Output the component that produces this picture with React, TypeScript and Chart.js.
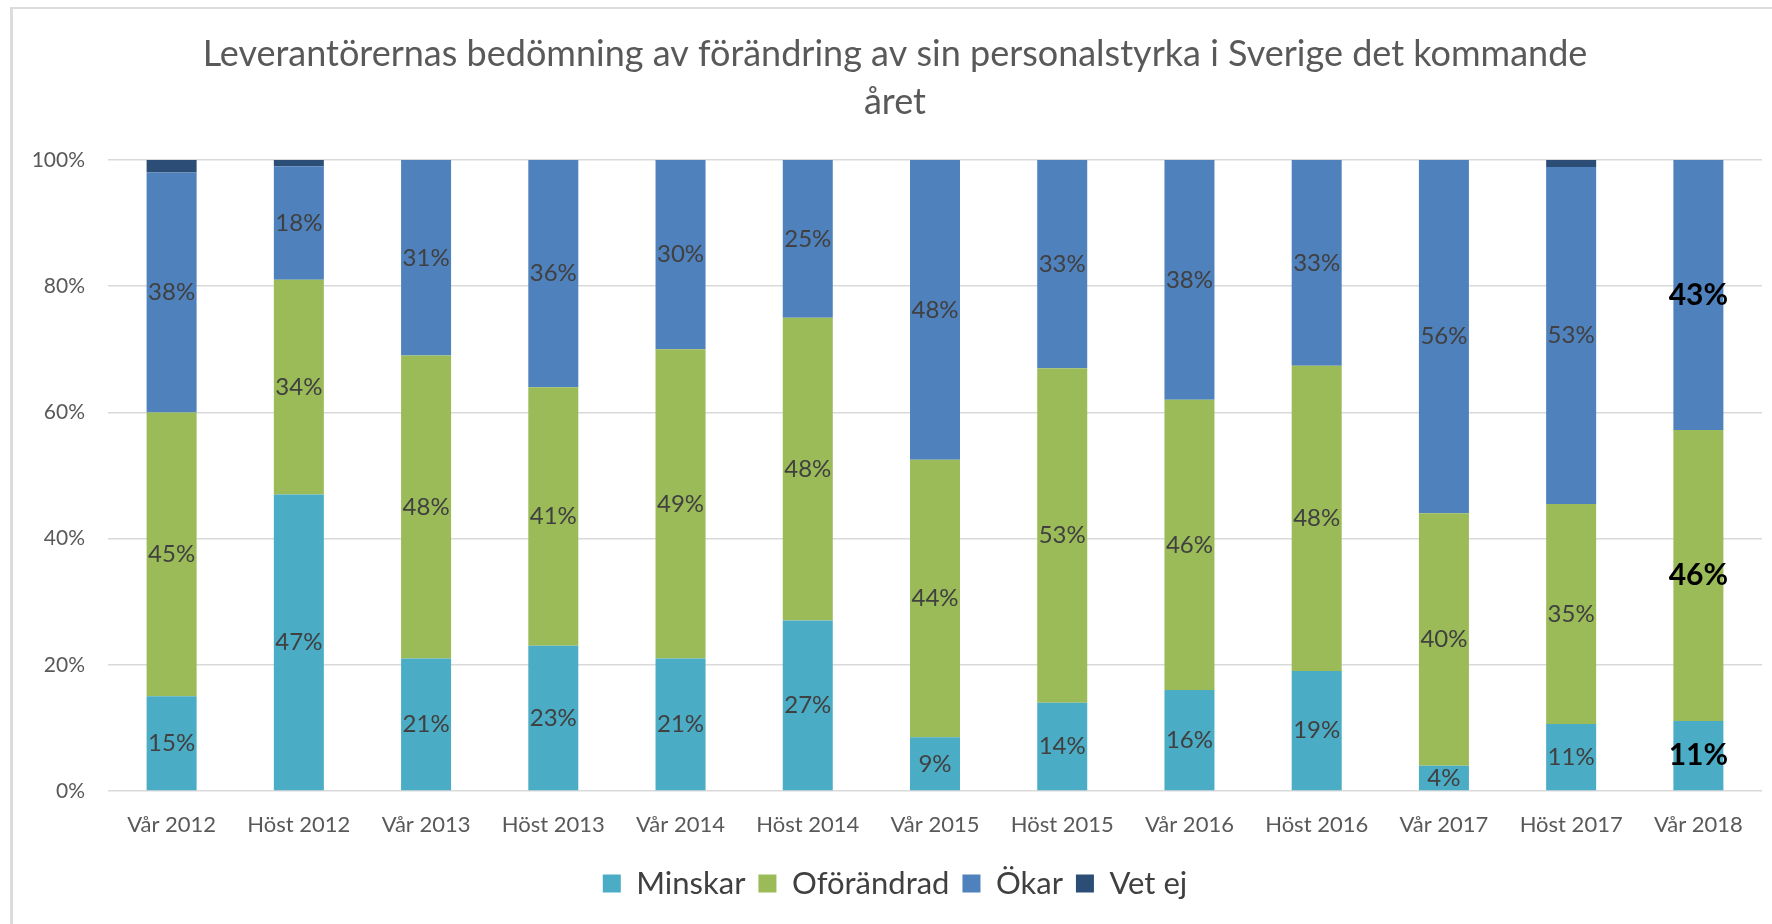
import React, { useEffect, useRef } from "react";
import { Chart, registerables } from "chart.js";

Chart.register(...registerables);

const categories = [
  "Vår 2012", "Höst 2012", "Vår 2013", "Höst 2013", "Vår 2014", "Höst 2014", "Vår 2015",
  "Höst 2015", "Vår 2016", "Höst 2016", "Vår 2017", "Höst 2017", "Vår 2018",
];
const minskar = [15, 47, 21, 23, 21, 27, 8.5, 14, 16, 19, 4, 10.6, 11.1];
const oforandrad = [45, 34, 48, 41, 49, 48, 44, 53, 46, 48.4, 40, 34.9, 46.1];
const okar = [38, 18, 31, 36, 30, 25, 47.5, 33, 38, 32.6, 56, 53.4, 42.8];
const vetEj = [2, 1, 0, 0, 0, 0, 0, 0, 0, 0, 0, 1.1, 0];
const yTicks = [0, 20, 40, 60, 80, 100];
const titleLines = [
  "Leverantörernas bedömning av förändring av sin personalstyrka i Sverige det kommande",
  "året",
];

const FONT = "Lato, 'Open Sans', sans-serif";

const dataLabelPlugin = {
  id: "stackLabels",
  afterDatasetsDraw(chart: any) {
    const ctx = chart.ctx;
    const last = chart.data.labels.length - 1;
    chart.data.datasets.forEach((ds: any, di: number) => {
      if (ds.hideLabels) return;
      const meta = chart.getDatasetMeta(di);
      meta.data.forEach((el: any, i: number) => {
        const v = ds.data[i];
        if (!v) return;
        const yc = (el.y + el.base) / 2;
        ctx.save();
        ctx.textAlign = "center";
        ctx.textBaseline = "middle";
        if (i === last) {
          ctx.font = `bold 30px ${FONT}`;
          ctx.fillStyle = "#000000";
        } else {
          ctx.font = `24px ${FONT}`;
          ctx.fillStyle = "#404040";
        }
        ctx.fillText(Math.round(v) + "%", el.x, yc);
        ctx.restore();
      });
    });
  },
};

export default function App() {
  const ref = useRef<HTMLCanvasElement | null>(null);
  useEffect(() => {
    if (!ref.current) return;
    const bp = 0.393;
    const chart = new Chart(ref.current, {
      type: "bar",
      data: {
        labels: categories,
        datasets: [
          { label: "Minskar", data: minskar, backgroundColor: "#4BACC6", barPercentage: bp, categoryPercentage: 1 },
          { label: "Oförändrad", data: oforandrad, backgroundColor: "#9BBB59", barPercentage: bp, categoryPercentage: 1 },
          { label: "Ökar", data: okar, backgroundColor: "#4F81BD", barPercentage: bp, categoryPercentage: 1 },
          { label: "Vet ej", data: vetEj, backgroundColor: "#2C4D75", barPercentage: bp, categoryPercentage: 1, hideLabels: true } as any,
        ],
      },
      options: {
        animation: false,
        responsive: false,
        maintainAspectRatio: false,
        layout: { padding: { left: 28, right: 10, top: 0, bottom: 15 } },
        plugins: {
          title: {
            display: true,
            text: titleLines,
            color: "#595959",
            font: { family: FONT, size: 36, weight: "normal", lineHeight: 1.333 },
            padding: { top: 30, bottom: 34 },
          },
          legend: {
            position: "bottom",
            labels: {
              color: "#404040",
              font: { family: FONT, size: 31 },
              boxWidth: 18,
              boxHeight: 18,
              padding: 13,
            },
          },
          tooltip: { enabled: false },
        },
        scales: {
          x: {
            stacked: true,
            grid: { display: false },
            border: { display: false },
            ticks: { color: "#595959", font: { family: FONT, size: 22 }, padding: 13, maxRotation: 0 },
            afterFit(scale: any) { scale.height = 64; },
          },
          y: {
            stacked: true,
            min: 0,
            max: 100,
            afterBuildTicks(scale: any) { scale.ticks = yTicks.map((v) => ({ value: v })); },
            ticks: {
              color: "#595959",
              font: { family: FONT, size: 21 },
              padding: 23,
              callback: (v: any) => v + "%",
            },
            grid: { color: "#D9D9D9", lineWidth: 1.5, drawTicks: false },
            border: { display: false },
            afterFit(scale: any) { scale.width = 80; },
          },
        },
      },
      plugins: [dataLabelPlugin],
    } as any);
    return () => chart.destroy();
  }, []);
  return (
    <div style={{ position: "fixed", left: 0, top: 0, width: 1772, height: 924, background: "#fff", overflow: "hidden" }}>
      <div style={{ position: "absolute", left: 10, top: 7, width: 1762, height: 2, background: "#DCDCDC" }} />
      <div style={{ position: "absolute", left: 10, top: 7, width: 3, height: 917, background: "#DCDCDC" }} />
      <canvas ref={ref} width={1772} height={924} style={{ position: "absolute", left: 0, top: 0, width: 1772, height: 924 }} />
    </div>
  );
}
